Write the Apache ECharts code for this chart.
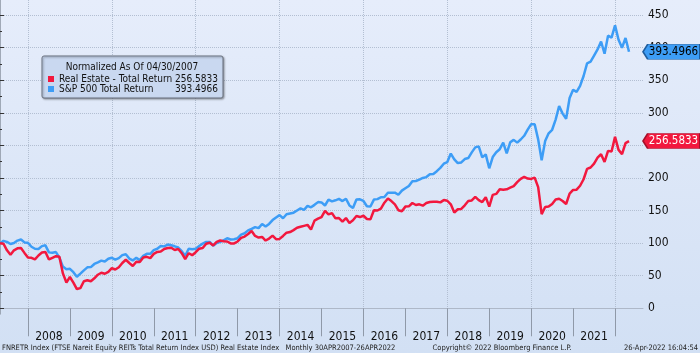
<!DOCTYPE html>
<html>
<head>
<meta charset="utf-8">
<script src="https://cdn.jsdelivr.net/npm/echarts@6/dist/echarts.min.js"></script>
<style>html,body{margin:0;padding:0;background:#dde7f7;}#c{width:700px;height:353px;}</style>
</head>
<body>
<div id="c"></div>
<script>
// Monthly points, index 0 = 30 Apr 2007, last = Apr 2022
const seriesNames = ['Real Estate - Total Return', 'S&P 500 Total Return'];
const normalizedDate = '04/30/2007';

const realEstate = [
  100, 99, 89, 82, 89, 92, 92.5, 85, 78, 77.5, 75, 81,
  85.5, 86.5, 75, 77.5, 80, 79, 53.5, 39.5, 48, 39.5, 29.5, 31,
  41.5, 43, 41.5, 46, 51.5, 54.5, 53, 56, 61.5, 59.5, 63, 69.5,
  74.5, 69.5, 65, 71.5, 71, 78, 79, 77, 83.5, 86.5, 87, 91,
  92.5, 93, 89.5, 91, 84.5, 75.5, 84.5, 81.5, 86, 91.5, 92.5, 99,
  100.5, 96.5, 102, 104, 103, 102.5, 99.5, 99.5, 102.5, 108, 110, 114,
  118.5, 111, 108.5, 109.5, 104, 107, 111.5, 106, 106.5, 111, 116, 117,
  120, 123.5, 125, 126.5, 128, 121, 134.5, 137.5, 140, 149.5, 144, 146,
  138, 138.5, 133, 138.5, 131, 135, 141.5, 140, 142, 137, 136.5, 150.5,
  150, 153, 162, 168.5, 164.5, 159.5, 150.5, 149, 156, 156.5, 161.5, 158.5,
  159.5, 157.5, 161.5, 163, 163.5, 163.5, 162.5, 166, 165, 159.5, 147, 152,
  152.5, 158, 164.5, 165.5, 171, 166, 163, 170.5, 156, 174, 175.5, 182.5,
  182, 182.5, 185, 187.5, 193.5, 198.5, 201.5, 199, 198.5, 200.5, 186, 144.5,
  155.5, 156, 160, 167, 168, 164.5, 160, 176, 181.5, 182, 188, 198,
  214, 216, 222, 231, 236.5, 224.5, 241.5, 240.5, 263, 243, 236.5, 253.5,
  256.5833
];

const sp500 = [
  100, 103.4, 101.8, 98.7, 100.1, 103.9, 105.6, 101.1, 100.4, 94.4, 91.3, 90.9,
  95.4, 96.6, 85.8, 85.1, 86.3, 77.8, 64.0, 60.0, 60.5, 55.4, 48.4, 53.2,
  58.2, 62.8, 63.2, 68.0, 70.4, 73.1, 71.7, 76.0, 77.5, 74.7, 77.0, 81.6,
  83.0, 76.3, 73.5, 77.4, 73.9, 80.5, 83.6, 83.6, 89.2, 91.3, 95.5, 95.0,
  97.8, 96.7, 95.1, 93.2, 87.6, 80.6, 91.3, 90.6, 91.5, 95.6, 99.2, 101.9,
  101.9, 96.1, 100.1, 102.1, 104.2, 107.5, 105.5, 106.0, 107.5, 113.1, 115.1, 119.5,
  121.9, 124.6, 123.0, 129.3, 125.4, 129.4, 135.4, 139.4, 142.9, 138.1, 144.3, 145.5,
  146.7, 150.0, 153.2, 151.1, 157.1, 154.9, 158.7, 162.9, 162.5, 157.7, 166.7, 164.0,
  165.7, 167.8, 164.5, 168.1, 157.8, 153.9, 167.0, 167.3, 164.7, 156.6, 156.2, 166.8,
  167.5, 170.4, 170.8, 177.2, 177.3, 177.4, 174.2, 180.5, 184.1, 187.7, 195.0, 195.3,
  197.4, 200.0, 201.3, 205.6, 206.1, 210.4, 215.4, 221.8, 224.4, 237.4, 228.5, 222.8,
  223.8, 229.0, 230.5, 239.2, 246.9, 248.4, 231.5, 236.1, 214.8, 232.1, 239.4, 244.1,
  254.1, 237.8, 254.6, 258.4, 254.2, 259.0, 264.7, 274.2, 282.5, 282.5, 259.2, 227.2,
  256.5, 268.5, 273.9, 289.5, 310.3, 298.7, 290.9, 322.7, 335.3, 332.1, 341.3, 356.4,
  375.8, 378.5, 387.6, 397.1, 409.3, 390.5, 418.2, 415.4, 434.2, 412.1, 399.8, 414.8,
  393.4966
];

const yearLabels = [2008, 2009, 2010, 2011, 2012, 2013, 2014, 2015, 2016, 2017, 2018, 2019, 2020, 2021];
const yTickValues = [0, 50, 100, 150, 200, 250, 300, 350, 400, 450];
const yMinorValues = [25, 75, 125, 175, 225, 275, 325, 375, 425];

const footerLeft = 'FNRETR Index (FTSE Nareit Equity REITs Total Return Index USD) Real Estate Index   Monthly 30APR2007-26APR2022';
const footerMid = 'Copyright\u00A9 2022 Bloomberg Finance L.P.';
const footerRight = '26-Apr-2022 16:04:54';

const FONT = '"DejaVu Sans Condensed", "DejaVu Sans", "Liberation Sans", sans-serif';
const RED = '#f2183e';
const BLUE = '#3d9df6';

// month index of the end of December before a given year
function yearStart(y) { return 8 + (y - 2008) * 12; }
const boundaries = yearLabels.concat([2022]).map(yearStart);
const mids = yearLabels.map(y => yearStart(y) + 6);
const gridX = yearLabels.concat([2022]).filter(y => y % 2 === 0).map(yearStart);

const xMax = 184;
const yMin = -8.75, yMax = 473;
const lastRE = realEstate[realEstate.length - 1];
const lastSP = sp500[sp500.length - 1];
const lastIdx = sp500.length - 1;

const BOX = 'path://M0,7L5,0L60,0L60,14L5,14Z';

const chart = echarts.init(document.getElementById('c'), null, { renderer: 'canvas' });
chart.setOption({
  animation: false,
  backgroundColor: {
    type: 'linear', x: 0, y: 0, x2: 0, y2: 1,
    colorStops: [{ offset: 0, color: '#e6edfb' }, { offset: 1, color: '#d2e0f4' }]
  },
  grid: { left: 0, right: 57, top: 0, bottom: 39 },
  legend: {
    data: seriesNames,
    orient: 'vertical',
    left: 42, top: 56,
    padding: [18, 5, 4, 6],
    itemGap: 0, itemWidth: 6, itemHeight: 6,
    icon: 'rect',
    selectedMode: false,
    backgroundColor: '#c9d8f0',
    borderColor: '#6b7381', borderWidth: 1, borderRadius: 2,
    shadowBlur: 2, shadowColor: 'rgba(0,0,0,0.35)', shadowOffsetX: 1, shadowOffsetY: 1,
    formatter: name => '{n|' + name + '}{v|' + (name === seriesNames[0] ? lastRE : lastSP).toFixed(4) + '}',
    textStyle: {
      fontFamily: FONT, fontSize: 10, color: '#111',
      rich: {
        n: { width: 117, fontFamily: FONT, fontSize: 10, color: '#111', lineHeight: 11 },
        v: { width: 42, align: 'right', fontFamily: FONT, fontSize: 10, color: '#111', lineHeight: 11 }
      }
    }
  },
  graphic: [
    { type: 'text', z: 100, x: 132, y: 67, style: { text: 'Normalized As Of ' + normalizedDate, align: 'center', verticalAlign: 'middle', font: '10px ' + FONT, fill: '#111' } },
    { type: 'text', z: 100, x: 2, y: 348.5, style: { text: footerLeft, align: 'left', verticalAlign: 'middle', font: '7.5px ' + FONT, fill: '#222' } },
    { type: 'text', z: 100, x: 502, y: 348.5, style: { text: footerMid, align: 'center', verticalAlign: 'middle', font: '7.5px ' + FONT, fill: '#222' } },
    { type: 'text', z: 100, x: 698, y: 348.5, style: { text: footerRight, align: 'right', verticalAlign: 'middle', font: '7.5px ' + FONT, fill: '#222' } }
  ],
  xAxis: [
    {
      type: 'value', min: 0, max: xMax, position: 'bottom',
      axisLine: { show: true, lineStyle: { color: '#aeb8c8', width: 1 } },
      axisTick: { show: true, customValues: boundaries, length: 28, lineStyle: { color: '#8f99a8', width: 1 } },
      axisLabel: {
        customValues: mids, margin: 17, fontSize: 12, color: '#111', fontFamily: FONT,
        formatter: v => String(yearLabels[Math.round((v - mids[0]) / 12)])
      },
      splitLine: { show: false }
    },
    {
      type: 'value', min: 0, max: xMax, position: 'top',
      axisLine: { show: false },
      axisTick: { show: false, customValues: gridX },
      axisLabel: { show: false },
      splitLine: { show: true, lineStyle: { type: 'dotted', color: '#b3bfd2', width: 1 } }
    }
  ],
  yAxis: [
    {
      type: 'value', position: 'right', min: yMin, max: yMax,
      axisLine: { show: true, lineStyle: { color: '#8a93a0', width: 1.5 } },
      axisTick: { show: true, customValues: yTickValues, length: 4, lineStyle: { color: '#333' } },
      axisLabel: { customValues: yTickValues, margin: 5, fontSize: 12, color: '#111', fontFamily: FONT },
      splitLine: { show: true, lineStyle: { type: 'dotted', color: '#b3bfd2', width: 1 } }
    },
    {
      type: 'value', position: 'right', min: yMin, max: yMax,
      axisLine: { show: false },
      axisTick: { show: true, customValues: yMinorValues, length: 2, lineStyle: { color: '#333' } },
      axisLabel: { show: false },
      splitLine: { show: false }
    }
  ],
  series: [
    {
      name: seriesNames[1], type: 'line', xAxisIndex: 0, yAxisIndex: 0,
      data: sp500.map((v, i) => [i, v]),
      showSymbol: false, symbol: 'none',
      lineStyle: { width: 2.5, color: BLUE }, itemStyle: { color: BLUE },
      markPoint: {
        symbol: BOX, symbolSize: [57, 15], symbolOffset: [28.5, 0],
        itemStyle: { color: BLUE, borderColor: '#1f5d9e', borderWidth: 1 },
        label: { show: true, formatter: p => Number(p.value).toFixed(4), color: '#000', fontSize: 11.5, fontFamily: FONT, offset: [2, 0] },
        data: [{ coord: [xMax, lastSP], value: lastSP }]
      }
    },
    {
      name: seriesNames[0], type: 'line', xAxisIndex: 0, yAxisIndex: 0,
      data: realEstate.map((v, i) => [i, v]),
      showSymbol: false, symbol: 'none',
      lineStyle: { width: 2.5, color: RED }, itemStyle: { color: RED },
      markPoint: {
        symbol: BOX, symbolSize: [57, 15], symbolOffset: [28.5, 0],
        itemStyle: { color: RED, borderColor: '#a5102a', borderWidth: 1 },
        label: { show: true, formatter: p => Number(p.value).toFixed(4), color: '#fff', fontSize: 11.5, fontFamily: FONT, offset: [2, 0] },
        data: [{ coord: [xMax, lastRE], value: lastRE }]
      }
    }
  ]
});
</script>
</body>
</html>
